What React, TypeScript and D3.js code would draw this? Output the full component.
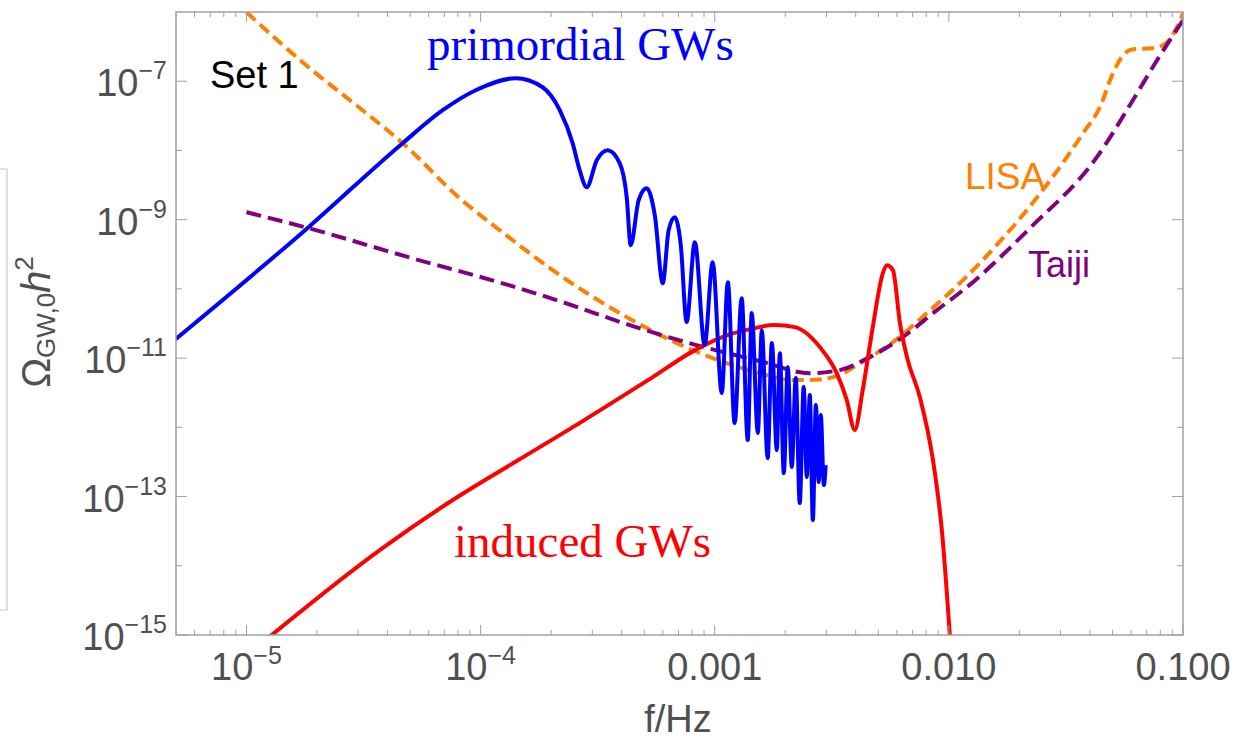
import React from "react";
import * as d3 from "d3";

const W = 1242;
const H = 746;

// ---- axis ticks ----
const xMajorTicks = [1e-5, 1e-4, 1e-3, 1e-2, 1e-1];
const xTickBase = ["10", "10", "0.001", "0.010", "0.100"];
const xTickExp = ["−5", "−4", "", "", ""];
const yMajorTicks = [1e-7, 1e-9, 1e-11, 1e-13, 1e-15];
const yTickExp = ["−7", "−9", "−11", "−13", "−15"];
const yMinorTicks = [1e-8, 1e-10, 1e-12, 1e-14];

// ---- series (log10 f, log10 Omega) ----
const primordialLogF = [-5.303, -4.735, -4.333, -4.162, -4.021, -3.85, -3.735, -3.662, -3.607, -3.577, -3.547, -3.504, -3.457, -3.406, -3.376, -3.359, -3.325, -3.291, -3.256, -3.222, -3.197, -3.171, -3.145, -3.12, -3.085, -3.043, -3.009, -2.97, -2.944, -2.915, -2.885, -2.859, -2.842, -2.816, -2.799, -2.774, -2.756, -2.735, -2.722, -2.705, -2.688, -2.671, -2.654, -2.637, -2.62, -2.607, -2.594, -2.581, -2.568, -2.556, -2.547, -2.534, -2.526];
const primordialLogOmega = [-10.726, -9.108, -7.895, -7.419, -7.13, -6.957, -7.087, -7.419, -7.895, -8.285, -8.531, -8.141, -7.996, -8.184, -8.675, -9.368, -8.718, -8.545, -8.935, -9.917, -9.152, -8.964, -9.368, -10.48, -9.325, -10.812, -9.614, -11.505, -9.903, -11.939, -10.134, -12.184, -10.35, -12.083, -10.596, -12.444, -10.783, -12.329, -10.928, -12.661, -11.13, -12.574, -11.289, -13.094, -11.419, -12.718, -11.534, -13.339, -11.679, -12.791, -11.823, -12.834, -12.545];

const inducedLogF = [-4.95, -4.419, -4.132, -3.846, -3.564, -3.278, -3.077, -2.957, -2.85, -2.744, -2.658, -2.551, -2.479, -2.436, -2.402, -2.368, -2.325, -2.282, -2.265, -2.239, -2.209, -2.179, -2.124, -2.068, -2.03, -1.99];
const inducedLogOmega = [-15.16, -13.744, -13.079, -12.487, -11.91, -11.303, -10.87, -10.682, -10.581, -10.523, -10.552, -10.841, -11.217, -11.606, -12.04, -11.462, -10.552, -9.773, -9.657, -9.729, -10.495, -10.986, -11.563, -12.473, -13.484, -15.3];

const lisaLogF = [-5.0, -4.735, -4.504, -4.333, -4.094, -3.88, -3.692, -3.376, -3.162, -2.949, -2.808, -2.667, -2.594, -2.479, -2.38, -2.239, -2.094, -1.953, -1.868, -1.496, -1.427, -1.355, -1.299, -1.256, -1.214, -1.128, -1.068, -1.026, -1.0];
const lisaLogOmega = [-6.004, -6.798, -7.419, -7.895, -8.675, -9.253, -9.729, -10.408, -10.783, -11.072, -11.217, -11.318, -11.318, -11.26, -11.072, -10.769, -10.35, -9.917, -9.628, -8.097, -7.751, -7.375, -6.884, -6.625, -6.538, -6.523, -6.437, -6.22, -6.018];

const taijiLogF = [-5.0, -4.735, -4.308, -3.88, -3.662, -3.376, -3.094, -2.808, -2.594, -2.466, -2.338, -2.197, -2.051, -1.923, -1.654, -1.368, -1.214, -1.111, -1.0];
const taijiLogOmega = [-8.892, -9.123, -9.542, -9.946, -10.177, -10.509, -10.798, -11.043, -11.217, -11.173, -10.986, -10.697, -10.307, -9.975, -9.123, -8.097, -7.274, -6.697, -6.119];

type Pt = { f: number; o: number };
const toPts = (lf: number[], lo: number[]): Pt[] =>
  lf.map((v, i) => ({ f: Math.pow(10, v), o: Math.pow(10, lo[i]) }));

const PLOT = { left: 176, right: 1183, top: 12, bottom: 635 };

export default function App() {
  const x = d3.scaleLog().domain([5e-6, 0.1]).range([PLOT.left, PLOT.right]);
  const y = d3.scaleLog().domain([1e-15, 1e-6]).range([PLOT.bottom, PLOT.top]);

  const line = d3
    .line<Pt>()
    .x((d) => x(d.f))
    .y((d) => y(d.o))
    .curve(d3.curveMonotoneX);

  const xMinor = x
    .ticks()
    .filter((t) => !xMajorTicks.some((m) => Math.abs(m - t) / m < 1e-6));

  const axisColor = "#a0a0a0";
  const labelColor = "#505050";
  const sans = "'Liberation Sans', Arial, sans-serif";
  const serif = "'Liberation Serif', 'Times New Roman', serif";

  return (
    <svg
      width={W}
      height={H}
      style={{ position: "absolute", left: 0, top: 0, display: "block", background: "#fff" }}
    >
      <defs>
        <clipPath id="plotClip">
          <rect
            x={PLOT.left}
            y={PLOT.top}
            width={PLOT.right - PLOT.left}
            height={PLOT.bottom - PLOT.top}
          />
        </clipPath>
      </defs>
      <rect x={0} y={0} width={W} height={H} fill="#fff" />

      {/* screenshot artifact box on the far left */}
      <path d="M0,169 H7 V610 H0" fill="none" stroke="#c8c8c8" strokeWidth={1.2} />

      {/* curves */}
      <g clipPath="url(#plotClip)" fill="none">
        <path
          d={line(toPts(lisaLogF, lisaLogOmega)) || ""}
          stroke="rgb(255,128,0)"
          strokeWidth={4}
          strokeDasharray="12,6"
        />
        <path
          d={line(toPts(taijiLogF, taijiLogOmega)) || ""}
          stroke="rgb(128,0,128)"
          strokeWidth={4}
          strokeDasharray="15,7"
        />
        <path
          d={line(toPts(inducedLogF, inducedLogOmega)) || ""}
          stroke="#ff0000"
          strokeWidth={4}
          strokeLinejoin="round"
        />
        <path
          d={line(toPts(primordialLogF, primordialLogOmega)) || ""}
          stroke="#0000ff"
          strokeWidth={4}
          strokeLinejoin="round"
        />
      </g>

      {/* frame */}
      <rect
        x={PLOT.left}
        y={PLOT.top}
        width={PLOT.right - PLOT.left}
        height={PLOT.bottom - PLOT.top}
        fill="none"
        stroke={axisColor}
        strokeWidth={1.5}
      />

      {/* ticks (bottom/top, left/right) */}
      <g stroke={axisColor} strokeWidth={1}>
        {xMajorTicks.map((t, i) => (
          <g key={"xM" + i}>
            <line x1={x(t)} x2={x(t)} y1={PLOT.bottom} y2={PLOT.bottom - 10} />
            <line x1={x(t)} x2={x(t)} y1={PLOT.top} y2={PLOT.top + 10} />
          </g>
        ))}
        {xMinor.map((t, i) => (
          <g key={"xm" + i}>
            <line x1={x(t)} x2={x(t)} y1={PLOT.bottom} y2={PLOT.bottom - 5} />
            <line x1={x(t)} x2={x(t)} y1={PLOT.top} y2={PLOT.top + 5} />
          </g>
        ))}
        {yMajorTicks.map((t, i) => (
          <g key={"yM" + i}>
            <line x1={PLOT.left} x2={PLOT.left + 11} y1={y(t)} y2={y(t)} />
            <line x1={PLOT.right} x2={PLOT.right - 11} y1={y(t)} y2={y(t)} />
          </g>
        ))}
        {yMinorTicks.map((t, i) => (
          <g key={"ym" + i}>
            <line x1={PLOT.left} x2={PLOT.left + 6} y1={y(t)} y2={y(t)} />
            <line x1={PLOT.right} x2={PLOT.right - 6} y1={y(t)} y2={y(t)} />
          </g>
        ))}
      </g>

      {/* x tick labels */}
      <g fontFamily={sans} fill={labelColor}>
        {xMajorTicks.map((t, i) => (
          <text key={"xl" + i} x={x(t)} y={680} textAnchor="middle" fontSize={38}>
            {xTickBase[i]}
            {xTickExp[i] ? (
              <tspan fontSize={25} dy={-16}>
                {xTickExp[i]}
              </tspan>
            ) : null}
          </text>
        ))}
      </g>

      {/* y tick labels */}
      <g fontFamily={sans} fill={labelColor}>
        {yMajorTicks.map((t, i) => (
          <text key={"yl" + i} x={167} y={y(t) + 15} textAnchor="end" fontSize={38}>
            10
            <tspan fontSize={25} dy={-17}>
              {yTickExp[i]}
            </tspan>
          </text>
        ))}
      </g>

      {/* axis labels */}
      <text x={678} y={732} textAnchor="middle" fontFamily={sans} fontSize={38} fill={labelColor}>
        f/Hz
      </text>
      <text
        transform="translate(50,322) rotate(-90)"
        textAnchor="middle"
        fontFamily={sans}
        fontSize={40}
        fill={labelColor}
      >
        <tspan>Ω</tspan>
        <tspan fontSize={26} dy={5}>
          GW,0
        </tspan>
        <tspan fontStyle="italic" dy={-5}>
          h
        </tspan>
        <tspan fontSize={26} dy={-17}>
          2
        </tspan>
      </text>

      {/* annotations */}
      <text x={210} y={88} fontFamily={sans} fontSize={38} fill="#000">
        Set 1
      </text>
      <text x={427} y={60} fontFamily={serif} fontSize={47} fill="#0000ff">
        primordial GWs
      </text>
      <text x={454} y={557} fontFamily={serif} fontSize={47} fill="#ff0000">
        induced GWs
      </text>
      <text x={965} y={189} fontFamily={sans} fontSize={37} fill="rgb(255,128,0)">
        LISA
      </text>
      <text x={1028} y={277} fontFamily={sans} fontSize={36} fill="rgb(128,0,128)">
        Taiji
      </text>
    </svg>
  );
}
